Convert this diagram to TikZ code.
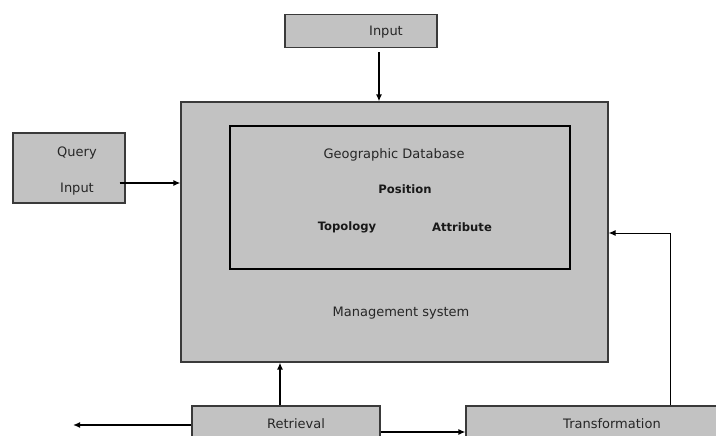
\documentclass[tikz,border=0pt]{standalone}
\usepackage{fontspec}
\setmainfont{DejaVu Sans}
\usetikzlibrary{arrows.meta}
\definecolor{boxgray}{HTML}{C2C2C2}
\definecolor{edgegray}{HTML}{3A3A3A}
\tikzset{
  box/.style={draw=edgegray, line width=1.2pt, fill=boxgray, inner sep=0pt},
  inner/.style={draw=black, line width=2pt, inner sep=0pt},
  lbl/.style={font=\fontsize{13}{15}\selectfont, text=black!85},
  blbl/.style={font=\fontsize{11.6}{14}\selectfont\bfseries, text=black!90},
  flow/.style={line width=1.5pt, -{Latex[length=7pt,width=6pt]}},
  thin flow/.style={line width=1pt, -{Latex[length=7pt,width=6pt]}}
}
\begin{document}
\begin{tikzpicture}[x=1pt,y=-1pt]
  \useasboundingbox (0,0) rectangle (716,436);
  \clip (0,0) rectangle (716,436);

  % boxes
  \node[box, minimum width=152pt, minimum height=33pt] (top) at (361,31) {};
  \node[lbl] (toptxt) at (386,32) {Input};

  \node[box, minimum width=427pt, minimum height=260pt] (main) at (394.5,232) {};
  \node[inner, minimum width=340pt, minimum height=142pt] (db) at (400,197.5) {};
  \node[lbl] (dbtxt) at (394,155) {Geographic Database};
  \node[blbl] (pos) at (405,189) {Position};
  \node[blbl] (topo) at (347,227) {Topology};
  \node[blbl] (attr) at (462,227) {Attribute};
  \node[lbl] (mgmt) at (401,313) {Management system};

  \node[box, minimum width=112pt, minimum height=70pt] (query) at (69,168) {};
  \node[lbl] (qtxt1) at (77,153) {Query};
  \node[lbl] (qtxt2) at (77,189) {Input};

  \node[box, minimum width=188pt, minimum height=50pt] (retr) at (286,431) {};
  \node[lbl] (rtxt) at (296,424) {Retrieval};
  \node[box, minimum width=280pt, minimum height=50pt] (trans) at (606,431) {};
  \node[lbl] (ttxt) at (612,424) {Transformation};

  % connectors
  \coordinate (out) at (73,425);
  \draw[flow] (top.south -| 379,0) ++(0,4) -- (main.north -| 379,0);
  \draw[flow] (query.east |- 0,183) ++(-6,0) -- (main.west |- 0,183);
  \draw[flow] (retr.north -| 280,0) -- (main.south -| 280,0);
  \draw[flow] (retr.west |- out) -- (out);
  \draw[flow] (retr.east |- 0,432) -- (trans.west |- 0,432);
  \draw[thin flow] (trans.north -| 670,0) |- (main.east |- 0,233);
\end{tikzpicture}
\end{document}
